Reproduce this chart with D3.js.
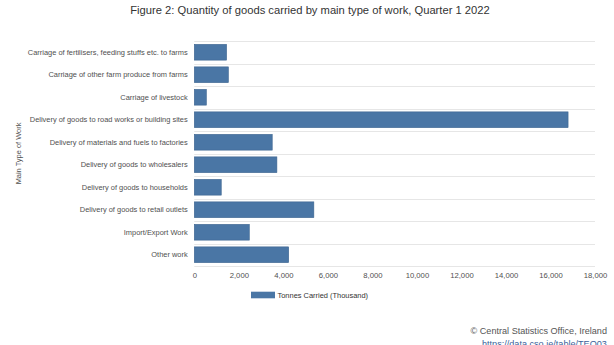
<!DOCTYPE html>
<html>
<head>
<meta charset="utf-8">
<script src="https://cdn.jsdelivr.net/npm/d3@7"></script>
<style>
  html, body { margin: 0; padding: 0; background: #fff; }
  svg { display: block; font-family: "Liberation Sans", Arial, sans-serif; }
</style>
</head>
<body>
<svg id="chart" width="614" height="345"></svg>
<script>
const categories = [
  "Carriage of fertilisers, feeding stuffs etc. to farms",
  "Carriage of other farm produce from farms",
  "Carriage of livestock",
  "Delivery of goods to road works or building sites",
  "Delivery of materials and fuels to factories",
  "Delivery of goods to wholesalers",
  "Delivery of goods to households",
  "Delivery of goods to retail outlets",
  "Import/Export Work",
  "Other work"
];
const tonnes = [1450, 1530, 540, 16790, 3500, 3710, 1210, 5370, 2470, 4240];
const valueTicks = [0, 2000, 4000, 6000, 8000, 10000, 12000, 14000, 16000, 18000];
const seriesName = "Tonnes Carried (Thousand)";
const titleText = "Figure 2: Quantity of goods carried by main type of work, Quarter 1 2022";
const yTitle = "Main Type of Work";
const creditText = "© Central Statistics Office, Ireland";
const linkText = "https://data.cso.ie/table/TEQ03";

const svg = d3.select("#chart");
const plot = { left: 194.3, right: 595, top: 41, bottom: 266 };
const barColor = "#4a76a5";
const smallFont = 7.7;
const labelFont = 7.45;

const x = d3.scaleLinear().domain([0, 18000]).range([plot.left, plot.right]);
const y = d3.scaleBand().domain(categories).range([plot.top, plot.bottom]).paddingInner(0.3).paddingOuter(0.15);

// Title
svg.append("text")
  .attr("x", 310).attr("y", 13.5)
  .attr("text-anchor", "middle")
  .attr("font-size", 11.2)
  .attr("fill", "#333")
  .text(titleText);

// Horizontal grid lines between categories
const gridYs = d3.range(categories.length + 1).map(i => plot.top + i * (plot.bottom - plot.top) / categories.length);
svg.append("g").selectAll("line").data(gridYs).join("line")
  .attr("x1", plot.left).attr("x2", plot.right)
  .attr("y1", d => Math.round(d) + 0.5).attr("y2", d => Math.round(d) + 0.5)
  .attr("stroke", "#e6e6e6").attr("stroke-width", 1);

// Bars
svg.append("g").selectAll("rect").data(categories).join("rect")
  .attr("x", x(0))
  .attr("y", d => y(d))
  .attr("width", (d, i) => x(tonnes[i]) - x(0))
  .attr("height", y.bandwidth())
  .attr("fill", barColor)
  .attr("stroke", "#3d6590")
  .attr("stroke-width", 0.6);

// Category axis labels
const yAxis = d3.axisLeft(y).tickSize(0).tickPadding(6.6);
const yG = svg.append("g").attr("transform", `translate(${plot.left},0)`).call(yAxis);
yG.select(".domain").remove();
yG.selectAll("text")
  .attr("font-size", labelFont)
  .attr("fill", "#505050")
  .attr("font-family", "'Liberation Sans', Arial, sans-serif");

// Value axis labels
const xAxis = d3.axisBottom(x).tickValues(valueTicks).tickSize(0).tickPadding(7)
  .tickFormat(d3.format(","));
const xG = svg.append("g").attr("transform", `translate(0,${plot.bottom})`).call(xAxis);
xG.select(".domain").remove();
xG.selectAll("text")
  .attr("font-size", smallFont)
  .attr("fill", "#505050")
  .attr("font-family", "'Liberation Sans', Arial, sans-serif");

// Axis title
svg.append("text")
  .attr("transform", `translate(20.5,${(plot.top + plot.bottom) / 2}) rotate(-90)`)
  .attr("text-anchor", "middle")
  .attr("font-size", labelFont)
  .attr("fill", "#505050")
  .text(yTitle);

// Legend
const legend = svg.append("g").attr("transform", "translate(251,291.7)");
legend.append("rect").attr("width", 24).attr("height", 6.6).attr("fill", barColor);
legend.append("text").attr("x", 26.5).attr("y", 6.3)
  .attr("font-size", labelFont).attr("fill", "#333").text(seriesName);

// Credits
svg.append("text")
  .attr("x", 607).attr("y", 334)
  .attr("text-anchor", "end")
  .attr("font-size", 9.1)
  .attr("fill", "#555")
  .text(creditText);
svg.append("text")
  .attr("x", 482).attr("y", 347)
  .attr("font-size", 9.1)
  .attr("fill", "#3b5f9a")
  .text(linkText);
</script>
</body>
</html>
